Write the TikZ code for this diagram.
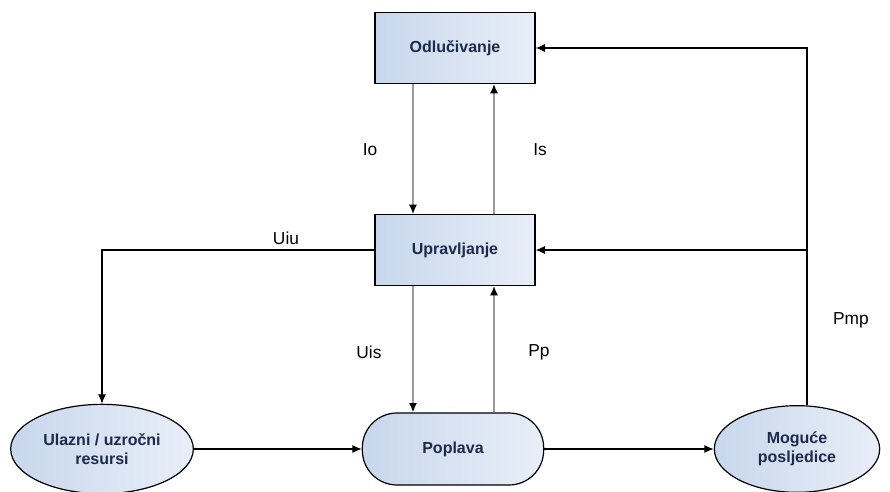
\documentclass[tikz,border=0pt]{standalone}
\usepackage{fontspec}
\setmainfont{Liberation Sans}
\usetikzlibrary{positioning,arrows.meta,shapes.geometric}
\definecolor{nodefill}{HTML}{C8D7EC}
\definecolor{nodelight}{HTML}{E8EEF8}
\definecolor{nodetext}{HTML}{1C2B4A}
\definecolor{flowgray}{HTML}{9A9A9A}

\begin{document}
\begin{tikzpicture}[x=0.75pt,y=-0.75pt,font=\fontsize{12}{14}\selectfont,
  blok/.style={draw=black,line width=0.9pt,left color=nodefill,right color=nodelight,
    minimum width=120pt,minimum height=53pt,text=nodetext,font=\fontsize{12}{14}\selectfont\bfseries},
  oval/.style={ellipse,draw=black,line width=0.9pt,left color=nodefill,right color=nodelight,
    text=nodetext,align=center,inner sep=0pt,font=\fontsize{12}{14}\selectfont\bfseries},
  tok/.style={line width=0.8pt,-{Latex[length=7pt,width=6pt]}},
  tokgray/.style={tok,draw=flowgray,line width=1.2pt,-{Latex[length=7pt,width=6pt,black]}},
  oznaka/.style={font=\fontsize{13}{15}\selectfont}]
  \useasboundingbox (0,0) rectangle (890,492);
  % blokovi
  \node[blok] (odl) at (455,48)  {Odlučivanje};
  \node[blok] (upr) at (455,250) {Upravljanje};
  \node[oval,minimum width=137pt,minimum height=67pt] (ulz) at (102,449) {Ulazni / uzročni\\resursi};
  \node[blok,rounded corners=26pt,minimum width=136pt,minimum height=54pt] (pop) at (453,449) {Poplava};
  \node[oval,minimum width=124pt,minimum height=65pt] (mog) at (797,449) {Moguće\\posljedice};
  % pomocne tocke
  \coordinate (lx) at (413,0);
  \coordinate (dx) at (494,0);
  \coordinate (px) at (807,0);
  \coordinate (grana) at (upr.east -| px);
  % veze
  \draw[tokgray] (odl.south -| lx) -- (upr.north -| lx);
  \draw[tokgray] (upr.north -| dx) -- (odl.south -| dx);
  \draw[tokgray] (upr.south -| lx) -- (pop.north -| lx);
  \draw[tokgray] (pop.north -| dx) -- (upr.south -| dx);
  \draw[tok] (upr.west) -| (ulz.north);
  \draw[tok] (ulz.east) -- (pop.west);
  \draw[tok] (pop.east) -- (mog.west);
  \draw[tok] ([xshift=7.5pt]mog.north) |- (odl.east);
  \draw[tok] (grana) -- (upr.east);
  % oznake
  \node[oznaka] (io)  at (370,150) {Io};
  \node[oznaka] (is)  at (540,150) {Is};
  \node[oznaka] (uiu) at (286,238) {Uiu};
  \node[oznaka] (uis) at (369,352) {Uis};
  \node[oznaka] (pp)  at (539,352) {Pp};
  \node[oznaka] (pmp) at (851,320) {Pmp};
\end{tikzpicture}
\end{document}
